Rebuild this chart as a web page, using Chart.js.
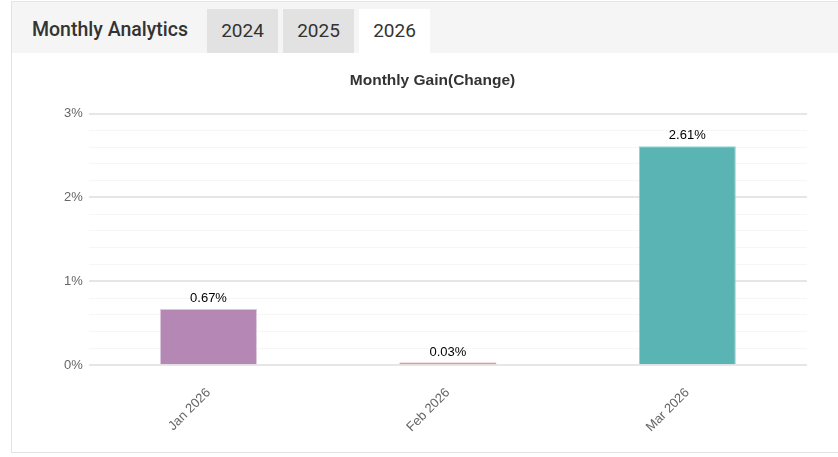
<!DOCTYPE html>
<html>
<head>
<meta charset="utf-8">
<script src="https://cdn.jsdelivr.net/npm/chart.js@4"></script>
<style>
    html, body { margin: 0; padding: 0; background: #fff; }
    body { width: 838px; height: 457px; overflow: hidden; position: relative; font-family: Roboto, "Liberation Sans", Arial, sans-serif; }
    .panel { position: absolute; left: 11px; top: 1px; width: 840px; height: 450px; border-left: 1px solid #e3e3e3; border-top: 1px solid #e6e6e6; border-bottom: 1px solid #e3e3e3; }
    .head { position: absolute; left: 0; top: 0; width: 100%; height: 51px; background: #f5f5f5; }
    .head .title { position: absolute; left: 20px; top: 16px; font-size: 19.5px; font-weight: 500; color: #333; }
    .tab { position: absolute; top: 7px; width: 71px; height: 44px; line-height: 44px; text-align: center; font-size: 19px; color: #333; background: #e2e2e2; }
    .tab.active { background: #fff; }
    .chart-box { position: absolute; left: 1px; top: 52px; width: 826px; height: 398px; }
</style>
</head>
<body>
<div class="panel">
    <div class="head">
        <div class="title">Monthly Analytics</div>
        <div class="tab" style="left:195px">2024</div>
        <div class="tab" style="left:271px">2025</div>
        <div class="tab active" style="left:347px">2026</div>
    </div>
    <div class="chart-box"><canvas id="gainChart"></canvas></div>
</div>
<script>
// données du graphique
const months = ['Jan 2026', 'Feb 2026', 'Mar 2026'];
const gains = [0.67, 0.03, 2.61];
const barColors = ['#b487b4', '#e07f7f', '#5bb4b4'];
const barBorders = ['#dcc6dc', '#e07f7f', '#8ed2d2'];

// étiquettes de valeur au-dessus des barres
const valueLabels = {
    id: 'valueLabels',
    afterDatasetsDraw(chart) {
        const ctx = chart.ctx;
        const meta = chart.getDatasetMeta(0);
        ctx.save();
        ctx.font = '13px "Liberation Sans", Arial, sans-serif';
        ctx.fillStyle = '#000';
        ctx.textAlign = 'center';
        ctx.textBaseline = 'bottom';
        meta.data.forEach(function(bar, i) {
            ctx.fillText(gains[i].toFixed(2) + '%', bar.x, bar.y - 4);
        });
        ctx.restore();
    }
};

document.addEventListener('DOMContentLoaded', function() {
    const gainCtx = document.getElementById('gainChart');
    new Chart(gainCtx, {
        type: 'bar',
        data: {
            labels: months,
            datasets: [{
                label: 'Monthly Gain',
                data: gains,
                backgroundColor: barColors,
                borderColor: barBorders,
                borderWidth: 1,
                barPercentage: 0.9,
                categoryPercentage: 0.45
            }]
        },
        options: {
            responsive: true,
            maintainAspectRatio: false,
            animation: false,
            layout: {
                padding: { left: 45, right: 32, top: 0, bottom: 5 }
            },
            plugins: {
                legend: { display: false },
                tooltip: { enabled: false },
                title: {
                    display: true,
                    text: 'Monthly Gain(Change)',
                    color: '#333',
                    font: { family: '"Liberation Sans", Arial, sans-serif', size: 15.5, weight: 'bold' },
                    padding: { top: 17, bottom: 24 }
                }
            },
            scales: {
                x: {
                    grid: { display: false },
                    border: { display: false },
                    ticks: {
                        color: '#666',
                        font: { family: '"Liberation Sans", Arial, sans-serif', size: 13 },
                        minRotation: 45,
                        maxRotation: 45,
                        padding: 12
                    }
                },
                y: {
                    min: 0,
                    max: 3,
                    border: { display: false },
                    grid: {
                        drawTicks: false,
                        color: function(c) {
                            return Number.isInteger(Math.round(c.tick.value * 1000) / 1000) ? '#e6e6e6' : '#f6f6f6';
                        },
                        lineWidth: function(c) {
                            return Number.isInteger(Math.round(c.tick.value * 1000) / 1000) ? 2 : 1;
                        }
                    },
                    ticks: {
                        stepSize: 0.2,
                        autoSkip: false,
                        color: '#666',
                        padding: 6,
                        font: { family: '"Liberation Sans", Arial, sans-serif', size: 13 },
                        callback: function(value) {
                            const v = Math.round(value * 1000) / 1000;
                            return Number.isInteger(v) ? v + '%' : '';
                        }
                    }
                }
            }
        },
        plugins: [valueLabels]
    });
});
</script>
</body>
</html>
